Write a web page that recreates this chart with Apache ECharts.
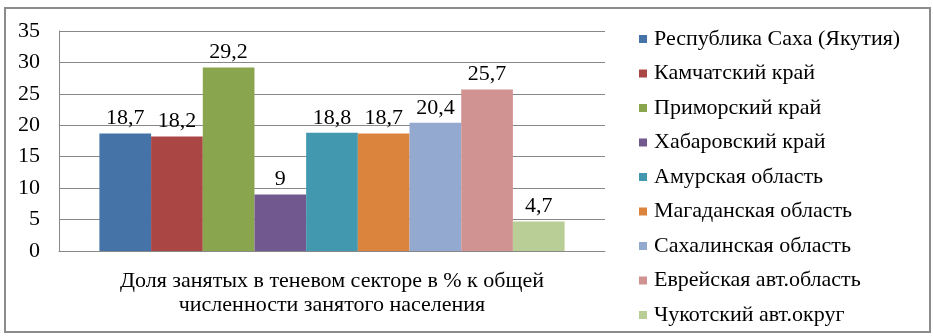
<!DOCTYPE html>
<html><head><meta charset="utf-8">
<script src="https://cdn.jsdelivr.net/npm/echarts@6/dist/echarts.min.js"></script>
<style>html,body{margin:0;padding:0;background:#fff}#c{width:933px;height:336px}</style>
</head><body><div id="c"></div>
<script>
const categories = ['Доля занятых в теневом секторе в % к общей\nчисленности занятого населения'];
const seriesNames = ['Республика Саха (Якутия)','Камчатский край','Приморский край','Хабаровский край','Амурская область','Магаданская область','Сахалинская область','Еврейская авт.область','Чукотский авт.округ'];
const seriesValues = [18.7, 18.2, 29.2, 9, 18.8, 18.7, 20.4, 25.7, 4.7];
const colors = ['#4572A7','#AA4643','#89A54E','#71588F','#4198AF','#DB843D','#93A9CF','#D19392','#B9CD96'];
const yTicks = [0,5,10,15,20,25,30,35];

const font = '"Liberation Serif", "Times New Roman", serif';
const fs = 22;
const chart = echarts.init(document.getElementById('c'));
chart.setOption({
  animation:false,
  color: colors,
  textStyle:{fontFamily:font},
  graphic:[{type:'rect',shape:{x:5,y:8,width:925,height:324},style:{fill:'none',stroke:'#8c8c8c',lineWidth:2}}],
  grid:{left:59,right:328,top:31,bottom:85},
  legend:{orient:'vertical',left:639,top:27,height:300,padding:0,itemWidth:8,itemHeight:8,itemGap:10.5,
    icon:'rect',textStyle:{fontFamily:font,fontSize:fs,color:'#000',lineHeight:24,padding:[0,0,0,2]},
    data:seriesNames},
  xAxis:{type:'category',data:categories,
    axisLine:{show:true,lineStyle:{color:'#888',width:1}},axisTick:{show:false},
    axisLabel:{fontFamily:font,fontSize:fs,color:'#000',lineHeight:24,margin:18}},
  yAxis:{type:'value',min:0,max:35,interval:5,
    axisLine:{show:true,lineStyle:{color:'#888',width:1}},axisTick:{show:false},
    splitLine:{lineStyle:{color:'#888',width:1}},
    axisLabel:{fontFamily:font,fontSize:fs,color:'#000',margin:19,
      formatter:v=>yTicks.includes(v)?String(v):''}},
  series: seriesNames.map((n,i)=>({
    name:n,type:'bar',barGap:0,barCategoryGap:'14.8%',
    data:[seriesValues[i]],
    label:{show:true,position:'top',distance:4,fontFamily:font,fontSize:fs,color:'#000',
      formatter:p=>String(p.value).replace('.',',')}
  }))
});
</script></body></html>
